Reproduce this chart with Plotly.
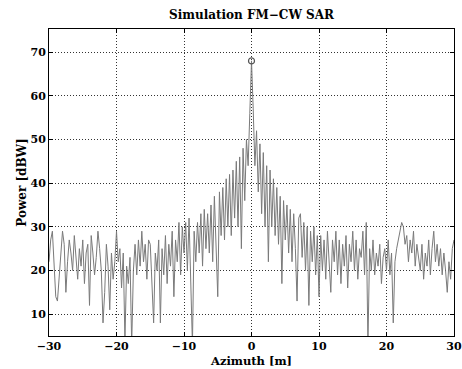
import numpy as np
import plotly.graph_objects as go

# Power samples [dBW], 0.25 m apart from -30 m to 30 m
seg_m30_m25 = [22, 27, 29, 20, 14, 13, 18, 24, 29, 26, 15, 22, 27, 24, 20, 28, 22, 18, 25, 21]
seg_m25_m20 = [27, 17, 24, 26, 12, 28, 24, 19, 23, 29, 25, 20, 8, 15, 26, 21, 11, 24, 18, 22]
seg_m20_m15 = [29, 22, 25, 16, 24, 4, 21, 17, 23, 3, 20, 26, 19, 27, 21, 29, 22, 26, 18, 27]
seg_m15_m10 = [26, 18, 8, 24, 20, 27, 8, 25, 19, 28, 17, 26, 21, 29, 14, 27, 22, 31, 19, 30]
seg_m10_m5 = [24, 31, 20, 32, 16, 3, 29, 22, 31, 24, 33, 21, 34, 25, 33, 24, 35, 22, 37, 27]
seg_m5_0 = [14, 38, 28, 39, 27, 41, 30, 42, 28, 43, 32, 45, 30, 46, 25, 48, 36, 50, 44, 56]
seg_peak = [68]
seg_0_5 = [57, 44, 52, 38, 49, 33, 47, 30, 44, 22, 43, 30, 41, 28, 39, 26, 37, 17, 36, 27]
seg_5_10 = [35, 24, 34, 22, 33, 25, 13, 32, 33, 23, 31, 20, 30, 12, 29, 22, 30, 19, 28, 14]
seg_10_15 = [28, 20, 27, 18, 29, 21, 15, 27, 22, 29, 19, 27, 17, 26, 21, 28, 16, 26, 22, 29]
seg_15_20 = [20, 27, 18, 25, 23, 29, 19, 31, 3, 25, 20, 27, 19, 24, 21, 26, 17, 23, 25, 20]
seg_20_25 = [27, 19, 24, 8, 22, 25, 27, 29, 31, 30, 26, 28, 22, 27, 24, 29, 21, 26, 23, 20]
seg_25_30 = [26, 18, 24, 21, 27, 19, 25, 29, 22, 26, 21, 25, 19, 24, 20, 15, 22, 18, 25, 27]

power = (seg_m30_m25 + seg_m25_m20 + seg_m20_m15 + seg_m15_m10 + seg_m10_m5 + seg_m5_0
         + seg_peak + seg_0_5 + seg_5_10 + seg_10_15 + seg_15_20 + seg_20_25 + seg_25_30)
azimuth = np.linspace(-30, 30, len(power))

peak_x = [0]
peak_y = [68]

title_text = "Simulation FM\u2212CW SAR"
x_title = "Azimuth [m]"
y_title = "Power [dBW]"
x_ticks = [-30, -20, -10, 0, 10, 20, 30]
y_ticks = [10, 20, 30, 40, 50, 60, 70]

FONT = "DejaVu Serif"

fig = go.Figure()
fig.add_trace(go.Scatter(x=azimuth, y=power, mode="lines", hoverinfo="skip",
                         line=dict(color="#7a7a7a", width=1), showlegend=False))
fig.add_trace(go.Scatter(x=peak_x, y=peak_y, mode="markers", hoverinfo="skip",
                         marker=dict(symbol="circle-open", size=6, color="#555555",
                                     line=dict(width=1.2)), showlegend=False))

axis_common = dict(showline=True, linecolor="black", linewidth=1, mirror="ticks",
                   ticks="inside", ticklen=4, tickcolor="black",
                   showgrid=True, gridcolor="#333333", griddash="1px,2px", gridwidth=0.8,
                   zeroline=False,
                   tickfont=dict(family=FONT, size=11, color="black", weight="bold"))

fig.update_layout(
    width=462, height=369,
    margin=dict(l=49, r=8, t=29, b=33, autoexpand=False),
    paper_bgcolor="white", plot_bgcolor="white",
    hovermode=False,
    title=dict(text="<b>" + title_text + "</b>", x=(49 + 454) / 2 / 462, xanchor="center",
               y=1 - 15 / 369, yanchor="middle",
               font=dict(family=FONT, size=12, color="black")),
    xaxis=dict(range=[-30, 30], tickvals=x_ticks, automargin=False,
               title=dict(text="<b>" + x_title + "</b>", standoff=4,
                          font=dict(family=FONT, size=11.5, color="black")),
               **axis_common),
    yaxis=dict(range=[5, 75.3], tickvals=y_ticks, automargin=False,
               title=dict(text="<b>" + y_title + "</b>", standoff=1,
                          font=dict(family=FONT, size=12, color="black")),
               **axis_common),
)

fig.write_html("out.html", config={"displayModeBar": False},
               post_script="document.body.style.margin='0px';document.body.style.overflow='hidden';")
